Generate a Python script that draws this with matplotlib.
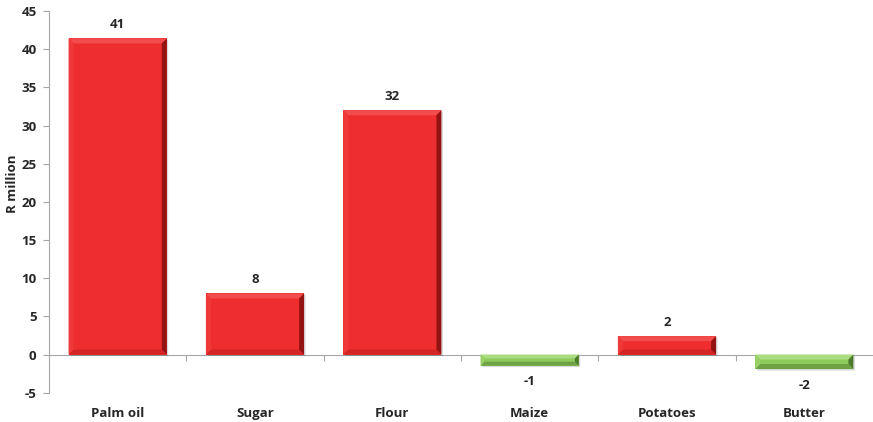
import matplotlib
matplotlib.use("Agg")
import matplotlib.pyplot as plt
from matplotlib.patches import Polygon
import matplotlib.transforms as mtransforms

categories = ["Palm oil", "Sugar", "Flour", "Maize", "Potatoes", "Butter"]
values = [41.4, 8.0, 32.0, -1.45, 2.4, -1.9]
y_ticks = [-5, 0, 5, 10, 15, 20, 25, 30, 35, 40, 45]

plt.rcParams["font.family"] = ["Open Sans", "DejaVu Sans"]

W, H, DPI = 873, 422, 100
fig = plt.figure(figsize=(W / DPI, H / DPI), dpi=DPI)
ax_l, ax_r, ax_top, ax_bot = 49, 873, 11, 392.7
ax = fig.add_axes([ax_l / W, 1 - ax_bot / H, (ax_r - ax_l) / W, (ax_bot - ax_top) / H])

n = len(categories)
ax.set_xlim(-0.5, n - 0.5)
ax.set_ylim(-5, 45)

# palette: (face, top facet, left facet, right facet, bottom facet)
red = ("#EE2E2E", "#F24C4C", "#EF3838", "#931212", "#D42424")
green = ("#8DCB5C", "#ABDC80", "#96D066", "#4C7A2A", "#6FA245")

bar_w = 0.715
xs = list(range(n))
bars = ax.bar(xs, values, width=bar_w, color=[red[0] if v >= 0 else green[0] for v in values],
              edgecolor="none", zorder=3)

# pixel -> data scale for bevel facets
px_x = n / (ax_r - ax_l)
px_y = 50 / (ax_bot - ax_top)
bev = 5

tc = "#262626"
for b, v in zip(bars, values):
    pal = red if v >= 0 else green
    x0 = b.get_x()
    x1 = x0 + b.get_width()
    y0, y1 = sorted([0, v])
    by = min(bev * px_y, (y1 - y0) * 0.35)
    bxe = by / px_y * px_x
    # top facet
    ax.add_patch(Polygon([(x0, y1), (x1, y1), (x1 - bxe, y1 - by), (x0 + bxe, y1 - by)],
                         closed=True, fc=pal[1], ec="none", zorder=4))
    # bottom facet
    ax.add_patch(Polygon([(x0, y0), (x1, y0), (x1 - bxe, y0 + by), (x0 + bxe, y0 + by)],
                         closed=True, fc=pal[4], ec="none", zorder=4))
    # left facet
    ax.add_patch(Polygon([(x0, y0), (x0, y1), (x0 + bxe, y1 - by), (x0 + bxe, y0 + by)],
                         closed=True, fc=pal[2], ec="none", zorder=4))
    # right facet
    ax.add_patch(Polygon([(x1, y0), (x1, y1), (x1 - bxe, y1 - by), (x1 - bxe, y0 + by)],
                         closed=True, fc=pal[3], ec="none", zorder=4))
    # soft shadow on the right and bottom
    ax.add_patch(Polygon([(x1, y1 - px_y), (x1 + 1.5 * px_x, y1 - 2 * px_y),
                          (x1 + 1.5 * px_x, y0 - 1.5 * px_y), (x0 + 2 * px_x, y0 - 1.5 * px_y),
                          (x0 + 2 * px_x, y0), (x1, y0)],
                         closed=True, fc="#000000", alpha=0.15, ec="none", zorder=2))

    label = f"{v:.0f}"
    cx = b.get_x() + b.get_width() / 2
    if v >= 0:
        ax.annotate(label, (cx, v), xytext=(0, 5.5), textcoords="offset points",
                    ha="center", va="bottom", fontsize=9.5, fontweight="bold",
                    color=tc, zorder=5)
    else:
        ax.annotate(label, (cx, v), xytext=(0, -7), textcoords="offset points",
                    ha="center", va="top", fontsize=9.5, fontweight="bold",
                    color=tc, zorder=5)

# axes styling
for s in ["top", "right"]:
    ax.spines[s].set_visible(False)
ax.spines["left"].set_color("#A6A6A6")
ax.spines["bottom"].set_color("#A6A6A6")
ax.spines["bottom"].set_position(("data", 0))
ax.spines["bottom"].set_zorder(1)

ax.set_yticks(y_ticks)
ax.set_yticklabels([str(t) for t in y_ticks], fontsize=9.5, fontweight="bold", color=tc)
ax.tick_params(axis="y", length=4, color="#A6A6A6", pad=5)

ax.set_xticks([i + 0.5 for i in range(n - 1)])
ax.set_xticklabels([])
ax.tick_params(axis="x", length=4, color="#A6A6A6", direction="out")

# category names along the bottom
trans = mtransforms.blended_transform_factory(ax.transData, fig.transFigure)
for i, c in enumerate(categories):
    ax.text(i, 1 - 417 / H, c, transform=trans, ha="center", va="baseline",
            fontsize=9.5, fontweight="bold", color=tc)

fig.text(13 / W, 1 - 184 / H, "R million", rotation=90, ha="center", va="center",
         fontsize=9.5, fontweight="bold", color=tc)

fig.savefig("out.png", dpi=DPI)
